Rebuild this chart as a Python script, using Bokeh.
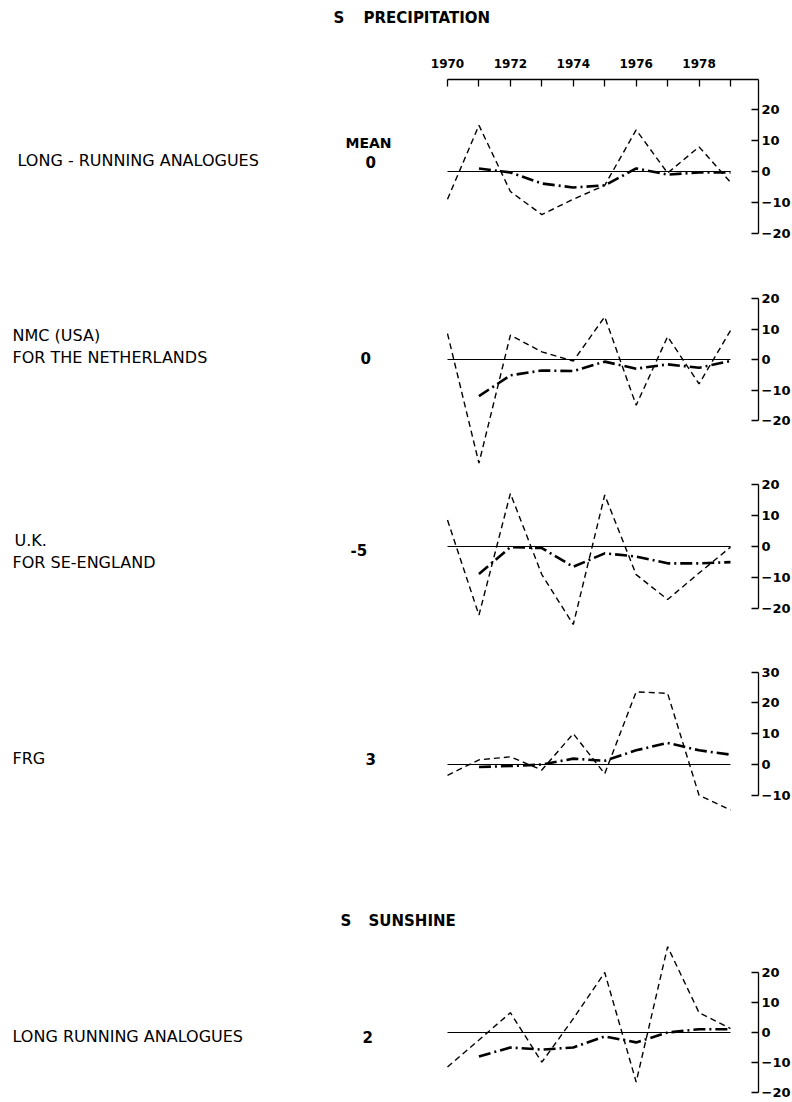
from bokeh.plotting import figure
from bokeh.models import LinearAxis, FixedTicker, Range1d, Label
from bokeh.layouts import column
from bokeh.embed import file_html
from bokeh.resources import INLINE

# ---------------- data ----------------
years = [1970, 1971, 1972, 1973, 1974, 1975, 1976, 1977, 1978, 1979]
years_dd = [1971, 1972, 1973, 1974, 1975, 1976, 1977, 1978, 1979]
zero_x = [1970, 1979]
year_labels = [1970, 1972, 1974, 1976, 1978]
year_minor = [1971, 1973, 1975, 1977, 1979]

# precipitation: long-running analogues
p1_dash = [-9, 15, -6.5, -14, -9, -4.5, 13.5, -0.5, 8, -3.5]
p1_dd = [1, -0.3, -3.9, -5.2, -4.5, 1, -1, -0.3, -0.3]
# NMC (USA) for the Netherlands
p2_dash = [8.5, -34, 8, 2.5, -0.5, 14, -15, 7.5, -8, 9.5]
p2_dd = [-12, -5.2, -3.6, -3.8, -0.7, -3, -1.6, -2.7, -0.5]
# U.K. for SE-England
p3_dash = [8.5, -22, 17, -9, -25, 16.5, -9, -17, -8.5, -0.2]
p3_dd = [-8.8, -0.2, -0.5, -6.5, -2.2, -3.2, -5.4, -5.4, -5]
# FRG
p4_dash = [-3.5, 1.5, 2.5, -1.8, 10, -3, 23.6, 23.1, -10, -14.8]
p4_dd = [-0.8, -0.5, 0, 1.9, 1.2, 4.6, 7, 4.6, 3.2]
# sunshine: long running analogues
p5_dash = [-11.5, -2.5, 6.6, -9.9, 4.6, 20, -16.5, 28.6, 6.6, 1.3]
p5_dd = [-8, -5, -5.7, -5, -1.3, -3.3, 0, 1.1, 1.1]

ticks_a = [-20, -10, 0, 10, 20]
ticks_b = [-10, 0, 10, 20, 30]

means = ["0", "0", "-5", "3", "2"]

# ---------------- layout ----------------
FONT = "DejaVu Sans"
LABEL_SIZE = "16px"
FRAME_W = 758
YEAR_0_PX = 447
YEAR_9_PX = 730
PX_PER_YEAR = (YEAR_9_PX - YEAR_0_PX) / 9.0
X_START = 1970 - YEAR_0_PX / PX_PER_YEAR
X_END = X_START + FRAME_W / PX_PER_YEAR
x_range = Range1d(X_START, X_END)


def px_x(px):
    return X_START + px / PX_PER_YEAR


def base_fig(h, y_range, border_top=0):
    p = figure(frame_width=FRAME_W, frame_height=h, x_range=x_range,
               y_range=y_range,
               x_axis_location=None, y_axis_location=None,
               toolbar_location=None, output_backend="svg",
               min_border_left=0, min_border_right=0,
               min_border_top=border_top, min_border_bottom=0,
               outline_line_color=None,
               background_fill_color="white", border_fill_color="white")
    p.grid.visible = False
    return p


def make_panel(top, bottom, zero, scale, border_top=0):
    y_end = (zero - top) / scale
    y_start = -(bottom - zero) / scale
    return base_fig(bottom - top, Range1d(y_start, y_end), border_top)


def right_axis(p, ticks, bounds):
    ax = LinearAxis(ticker=FixedTicker(ticks=ticks), bounds=bounds,
                    major_tick_in=7, major_tick_out=0,
                    minor_tick_in=0, minor_tick_out=0,
                    major_label_standoff=3,
                    axis_line_width=1.3, major_tick_line_width=1.3,
                    axis_line_color="black", major_tick_line_color="black",
                    major_label_text_font=FONT,
                    major_label_text_font_size="13px",
                    major_label_text_font_style="bold",
                    major_label_text_color="black")
    p.add_layout(ax, "right")


def add_text(p, px, py, text, scale, zero, size=LABEL_SIZE, style="normal"):
    p.add_layout(Label(x=px_x(px), y=(zero - py) / scale, text=text,
                       text_font=FONT, text_font_size=size,
                       text_font_style=style,
                       text_baseline="middle", text_align="left",
                       text_color="black"))


def draw_series(p, dash, dd):
    p.line(zero_x, [0, 0], line_color="black", line_width=1)
    p.line(years, dash, line_color="black", line_width=1.4,
           line_dash="6 4")
    p.line(years_dd, dd, line_color="black", line_width=2.6,
           line_dash="12 4 2 4")


# header (title) -------------------------------------------------------
HEAD_H = 40
head = base_fig(HEAD_H, Range1d(HEAD_H, 0))
add_text(head, 333, 17, "S", -1, 0, "15px", "bold")
add_text(head, 363, 17, "PRECIPITATION", -1, 0, "15px", "bold")

# panel 1 ------------------------------------------------------------
S1 = 3.08
Z1 = 171
p1 = make_panel(79, 250, Z1, S1, border_top=79 - HEAD_H)
top_ax = LinearAxis(ticker=FixedTicker(ticks=year_labels, minor_ticks=year_minor),
                    bounds=(1970, X_END),
                    major_tick_in=7, major_tick_out=0,
                    minor_tick_in=7, minor_tick_out=0,
                    major_label_standoff=12,
                    axis_line_width=1.3, major_tick_line_width=1.3,
                    minor_tick_line_width=1.3,
                    axis_line_color="black", major_tick_line_color="black",
                    minor_tick_line_color="black",
                    major_label_text_font=FONT,
                    major_label_text_font_size="12px",
                    major_label_text_font_style="bold",
                    major_label_text_color="black")
p1.add_layout(top_ax, "above")
right_axis(p1, ticks_a, (-20, (Z1 - 79) / S1))
draw_series(p1, p1_dash, p1_dd)
add_text(p1, 345, 142, "MEAN", S1, Z1, "14px", "bold")
add_text(p1, 17, 160, "LONG - RUNNING ANALOGUES", S1, Z1)
add_text(p1, 365, 161, means[0], S1, Z1, "15px", "bold")

# panel 2 ------------------------------------------------------------
S2 = 3.05
Z2 = 359
p2 = make_panel(250, 470, Z2, S2)
right_axis(p2, ticks_a, (-20, 20))
draw_series(p2, p2_dash, p2_dd)
add_text(p2, 12, 335, "NMC (USA)", S2, Z2)
add_text(p2, 12, 357, "FOR THE NETHERLANDS", S2, Z2)
add_text(p2, 360, 357, means[1], S2, Z2, "15px", "bold")

# panel 3 ------------------------------------------------------------
S3 = 3.12
Z3 = 546
p3 = make_panel(470, 630, Z3, S3)
right_axis(p3, ticks_a, (-20, 20))
draw_series(p3, p3_dash, p3_dd)
add_text(p3, 14, 540, "U.K.", S3, Z3)
add_text(p3, 12, 562, "FOR SE-ENGLAND", S3, Z3)
add_text(p3, 350, 549, means[2], S3, Z3, "15px", "bold")

# panel 4 ------------------------------------------------------------
S4 = 3.08
Z4 = 764
p4 = make_panel(630, 850, Z4, S4)
right_axis(p4, ticks_b, (-10, 30))
draw_series(p4, p4_dash, p4_dd)
add_text(p4, 12, 758, "FRG", S4, Z4)
add_text(p4, 365, 758, means[3], S4, Z4, "15px", "bold")

# panel 5 ------------------------------------------------------------
S5 = 3.0
Z5 = 1032
p5 = make_panel(850, 1102, Z5, S5)
right_axis(p5, ticks_a, (-20, 20))
draw_series(p5, p5_dash, p5_dd)
add_text(p5, 340, 920, "S", S5, Z5, "15px", "bold")
add_text(p5, 368, 920, "SUNSHINE", S5, Z5, "15px", "bold")
add_text(p5, 12, 1036, "LONG RUNNING ANALOGUES", S5, Z5)
add_text(p5, 362, 1036, means[4], S5, Z5, "15px", "bold")

layout = column(head, p1, p2, p3, p4, p5, spacing=0)

open("out.html", "w").write(file_html(layout, INLINE))
